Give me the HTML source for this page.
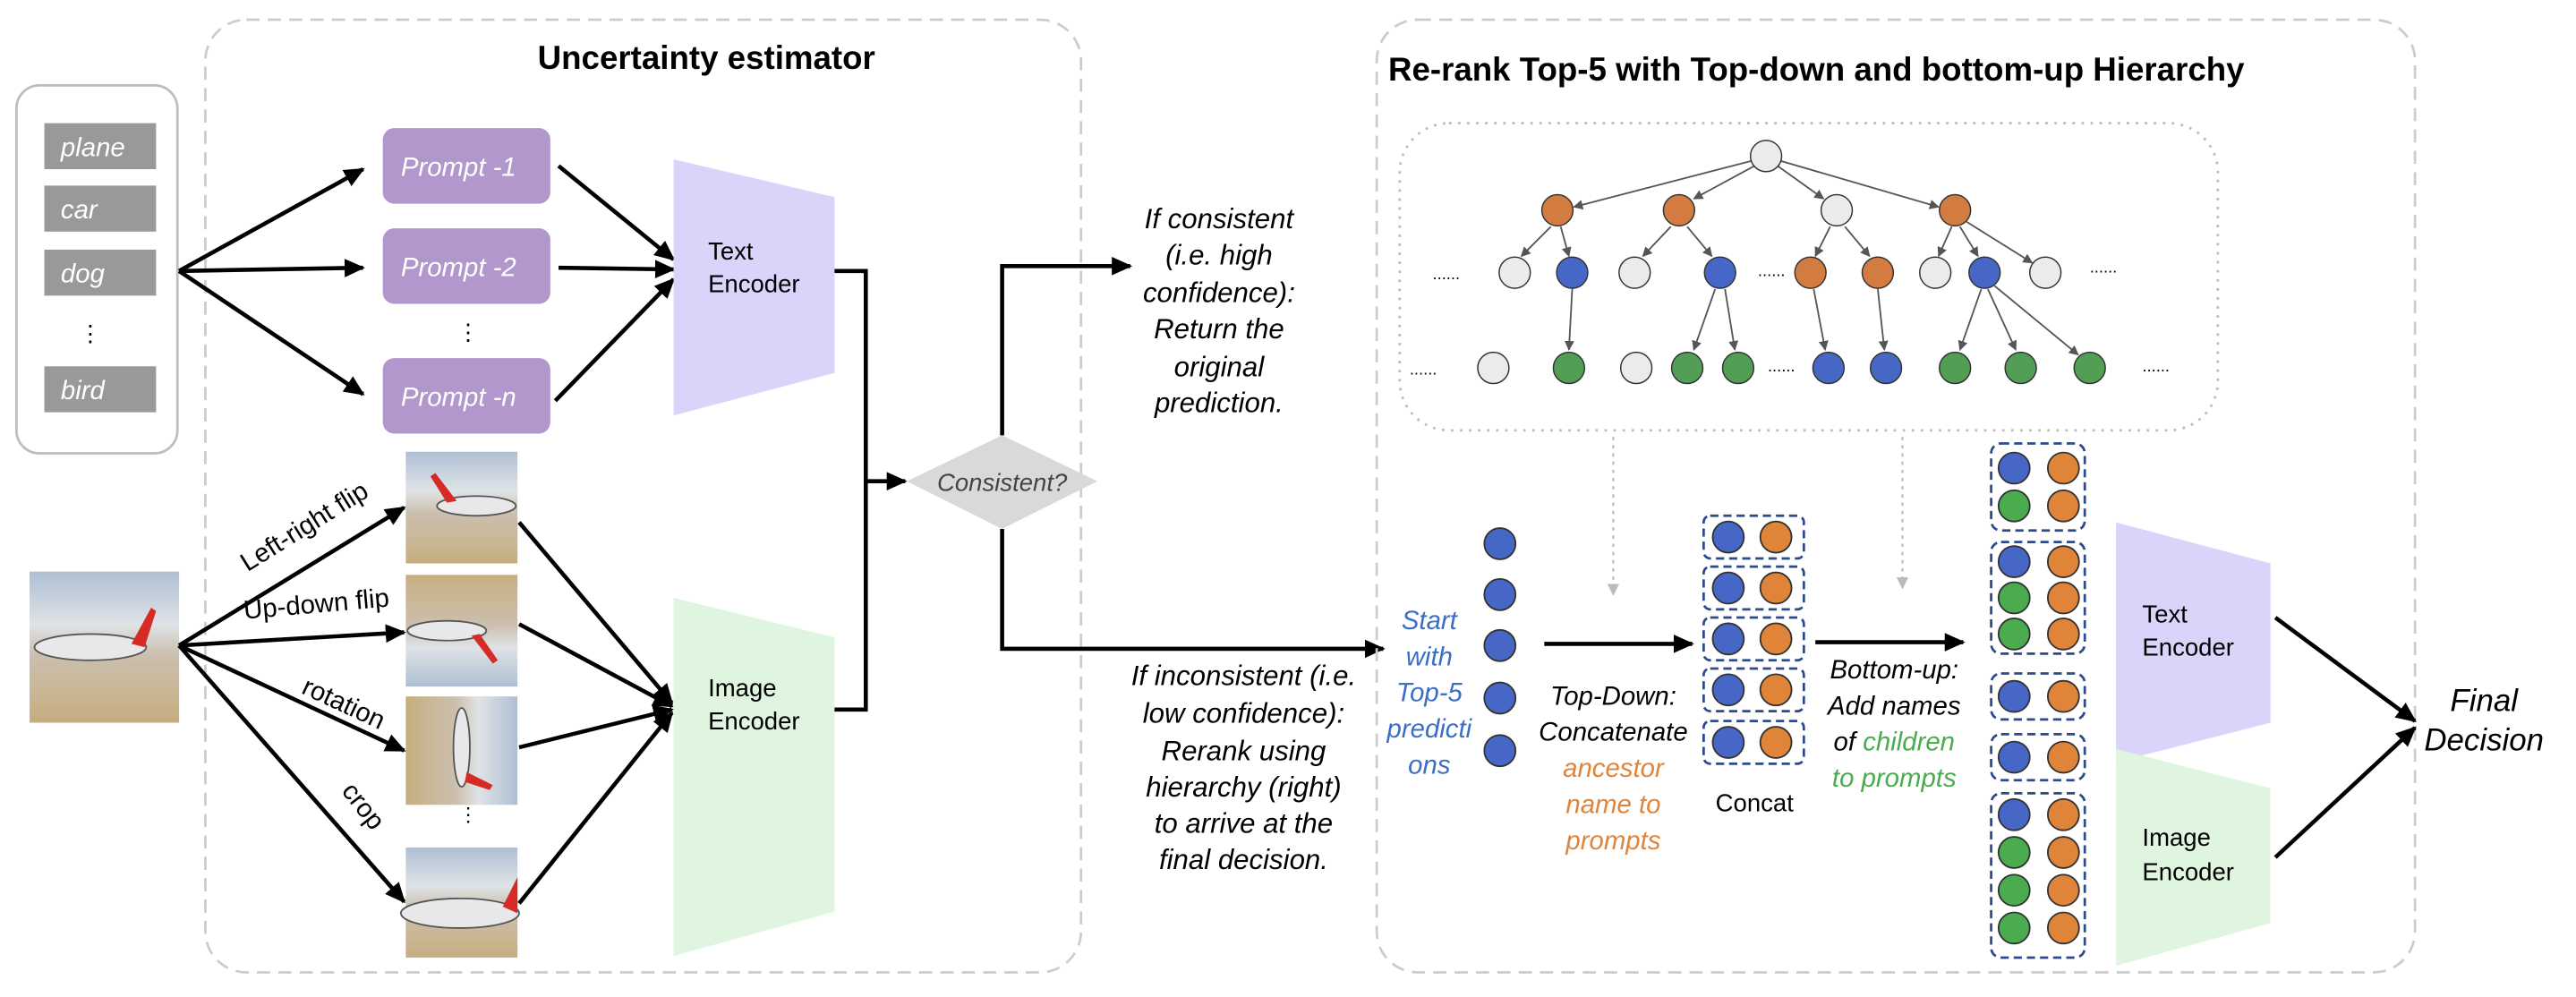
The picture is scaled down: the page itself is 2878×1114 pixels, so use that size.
<!DOCTYPE html>
<html><head><meta charset="utf-8"><style>
html,body{margin:0;padding:0;background:#fff;}
svg{display:block;}
text{font-family:"Liberation Sans",sans-serif;}
</style></head><body>
<svg width="2878" height="1114" viewBox="0 0 1568 607" preserveAspectRatio="none" xmlns="http://www.w3.org/2000/svg">
<defs>
<marker id="ah" viewBox="0 0 10 10" refX="9" refY="5" markerWidth="5" markerHeight="5" orient="auto" markerUnits="strokeWidth"><path d="M0,0.5 L10,5 L0,9.5 z" fill="#000"/></marker>
<marker id="ag" viewBox="0 0 10 10" refX="9" refY="5" markerWidth="6" markerHeight="6" orient="auto" markerUnits="strokeWidth"><path d="M0,0 L10,5 L0,10 z" fill="#555"/></marker>
<marker id="agl" viewBox="0 0 10 10" refX="9" refY="5" markerWidth="6" markerHeight="6" orient="auto" markerUnits="strokeWidth"><path d="M0,0 L10,5 L0,10 z" fill="#bbb"/></marker>
<linearGradient id="sky" x1="0" y1="0" x2="0" y2="1"><stop offset="0" stop-color="#aebfd4"/><stop offset="0.35" stop-color="#dfe3e6"/><stop offset="0.55" stop-color="#cbbfae"/><stop offset="0.8" stop-color="#c9b795"/><stop offset="1" stop-color="#c6ad80"/></linearGradient>
<linearGradient id="skyf" x1="0" y1="1" x2="0" y2="0"><stop offset="0" stop-color="#aebfd4"/><stop offset="0.35" stop-color="#dfe3e6"/><stop offset="0.55" stop-color="#cbbfae"/><stop offset="0.8" stop-color="#c9b795"/><stop offset="1" stop-color="#c6ad80"/></linearGradient>
<linearGradient id="skyr" x1="1" y1="0" x2="0" y2="0"><stop offset="0" stop-color="#aebfd4"/><stop offset="0.35" stop-color="#dfe3e6"/><stop offset="0.55" stop-color="#cbbfae"/><stop offset="0.8" stop-color="#c9b795"/><stop offset="1" stop-color="#c6ad80"/></linearGradient>
</defs>

<rect x="10" y="52" width="98" height="224" rx="14" fill="#fff" stroke="#bdbdbd" stroke-width="1.5"/>
<g fill="#999">
<rect x="27" y="75" width="68" height="28"/><rect x="27" y="113" width="68" height="28"/><rect x="27" y="152" width="68" height="28"/><rect x="27" y="223" width="68" height="28"/>
</g>
<g fill="#fff" font-style="italic" font-size="16">
<text x="37" y="95">plane</text><text x="37" y="133">car</text><text x="37" y="172">dog</text><text x="37" y="243">bird</text>
</g>
<text x="55" y="208" font-size="14" text-anchor="middle">⋮</text>

<rect x="125" y="12" width="533" height="580" rx="25" fill="none" stroke="#ccc" stroke-width="1.5" stroke-dasharray="8,5"/>
<text x="430" y="42" font-size="20" font-weight="bold" text-anchor="middle">Uncertainty estimator</text>

<g fill="#b197cc"><rect x="233" y="78" width="102" height="46" rx="7"/><rect x="233" y="139" width="102" height="46" rx="7"/><rect x="233" y="218" width="102" height="46" rx="7"/></g>
<g fill="#fff" font-style="italic" font-size="16"><text x="244" y="107">Prompt -1</text><text x="244" y="168">Prompt -2</text><text x="244" y="247">Prompt -n</text></g>
<text x="285" y="207" font-size="14" text-anchor="middle">⋮</text>

<g stroke="#000" stroke-width="2.5" fill="none" marker-end="url(#ah)">
<line x1="109" y1="165" x2="221" y2="103"/>
<line x1="109" y1="165" x2="221" y2="163"/>
<line x1="109" y1="165" x2="221" y2="240"/>
<line x1="340" y1="101" x2="410" y2="158"/>
<line x1="340" y1="163" x2="410" y2="164"/>
<line x1="338" y1="244" x2="410" y2="170"/>
</g>

<polygon points="410,97 508,120 508,227 410,253" fill="#d9d5fa"/>
<text x="431" y="158" font-size="15">Text</text><text x="431" y="178" font-size="15">Encoder</text>
<polygon points="410,364 508,388 508,555 410,582" fill="#dff5df"/>
<text x="431" y="424" font-size="15">Image</text><text x="431" y="444" font-size="15">Encoder</text>

<rect x="18" y="348" width="91" height="92" fill="url(#sky)"/>
<ellipse cx="55" cy="394" rx="34" ry="8" fill="#e8e8ea" stroke="#555" stroke-width="1"/>
<polygon points="80,392 92,370 95,372 88,394" fill="#d62b25"/>

<rect x="247" y="275" width="68" height="68" fill="url(#sky)"/>
<ellipse cx="290" cy="308" rx="24" ry="6" fill="#e8e8ea" stroke="#555" stroke-width="1"/>
<polygon points="272,306 262,290 265,288 278,305" fill="#d62b25"/>
<rect x="247" y="350" width="68" height="68" fill="url(#skyf)"/>
<ellipse cx="272" cy="384" rx="24" ry="6" fill="#e8e8ea" stroke="#555" stroke-width="1"/>
<polygon points="292,386 303,402 300,404 287,387" fill="#d62b25"/>
<rect x="247" y="424" width="68" height="66" fill="url(#skyr)"/>
<ellipse cx="281" cy="455" rx="5" ry="24" fill="#e8e8ea" stroke="#555" stroke-width="1"/>
<polygon points="284,470 300,478 298,481 283,476" fill="#d62b25"/>
<rect x="247" y="516" width="68" height="67" fill="url(#sky)"/>
<ellipse cx="280" cy="556" rx="36" ry="9" fill="#e8e8ea" stroke="#555" stroke-width="1"/>
<polygon points="306,552 315,534 315,556" fill="#d62b25"/>
<text x="285" y="500" font-size="12" text-anchor="middle">⋮</text>

<g stroke="#000" stroke-width="2.5" fill="none" marker-end="url(#ah)">
<line x1="109" y1="393" x2="246" y2="309"/>
<line x1="109" y1="393" x2="246" y2="385"/>
<line x1="109" y1="393" x2="246" y2="457"/>
<line x1="109" y1="393" x2="246" y2="549"/>
<line x1="316" y1="318" x2="409" y2="428"/>
<line x1="316" y1="380" x2="409" y2="430"/>
<line x1="316" y1="455" x2="409" y2="432"/>
<line x1="316" y1="550" x2="409" y2="434"/>
</g>
<g font-size="16">
<text transform="translate(188,325) rotate(-32)" text-anchor="middle">Left-right flip</text>
<text transform="translate(193,373) rotate(-5)" text-anchor="middle">Up-down flip</text>
<text transform="translate(207,433) rotate(25)" text-anchor="middle">rotation</text>
<text transform="translate(217,494) rotate(52)" text-anchor="middle">crop</text>
</g>

<path d="M508,165 H527 V432 H508" stroke="#000" stroke-width="2.5" fill="none"/>
<line x1="527" y1="293" x2="551" y2="293" stroke="#000" stroke-width="2.5" marker-end="url(#ah)"/>
<polygon points="552,293 610,265 668,293 610,322" fill="#d9d9d9"/>
<text x="610" y="299" font-size="15" font-style="italic" fill="#444" text-anchor="middle">Consistent?</text>
<path d="M610,265 V162 H688" stroke="#000" stroke-width="2.5" fill="none" marker-end="url(#ah)"/>
<path d="M610,322 V395 H842" stroke="#000" stroke-width="2.5" fill="none" marker-end="url(#ah)"/>

<g font-size="17" font-style="italic" text-anchor="middle">
<text x="742" y="139">If consistent</text><text x="742" y="161">(i.e. high</text><text x="742" y="184">confidence):</text><text x="742" y="206">Return the</text><text x="742" y="229">original</text><text x="742" y="251">prediction.</text>
<text x="757" y="417">If inconsistent (i.e.</text><text x="757" y="440">low confidence):</text><text x="757" y="463">Rerank using</text><text x="757" y="485">hierarchy (right)</text><text x="757" y="507">to arrive at the</text><text x="757" y="529">final decision.</text>
</g>

<rect x="838" y="12" width="632" height="580" rx="25" fill="none" stroke="#ccc" stroke-width="1.5" stroke-dasharray="8,5"/>
<text x="845" y="49" font-size="20" font-weight="bold">Re-rank Top-5 with Top-down and bottom-up Hierarchy</text>
<rect x="852" y="75" width="498" height="187" rx="30" fill="none" stroke="#bbb" stroke-width="1.5" stroke-dasharray="1.5,4"/>

<g stroke="#555" stroke-width="1" marker-end="url(#ag)">
<line x1="1066" y1="98" x2="958" y2="126"/>
<line x1="1068" y1="101" x2="1031" y2="121"/>
<line x1="1082" y1="101" x2="1110" y2="121"/>
<line x1="1084" y1="98" x2="1180" y2="126"/>
<line x1="944" y1="138" x2="926" y2="156"/>
<line x1="950" y1="138" x2="955" y2="156"/>
<line x1="1017" y1="138" x2="1000" y2="156"/>
<line x1="1027" y1="138" x2="1042" y2="156"/>
<line x1="1114" y1="138" x2="1105" y2="156"/>
<line x1="1123" y1="138" x2="1138" y2="156"/>
<line x1="1188" y1="138" x2="1180" y2="156"/>
<line x1="1193" y1="138" x2="1204" y2="156"/>
<line x1="1197" y1="135" x2="1237" y2="160"/>
<line x1="957" y1="176" x2="955" y2="213"/>
<line x1="1044" y1="176" x2="1031" y2="213"/>
<line x1="1050" y1="176" x2="1056" y2="213"/>
<line x1="1104" y1="176" x2="1111" y2="213"/>
<line x1="1143" y1="176" x2="1147" y2="213"/>
<line x1="1206" y1="176" x2="1193" y2="213"/>
<line x1="1210" y1="176" x2="1227" y2="213"/>
<line x1="1214" y1="174" x2="1265" y2="216"/>
</g>
<g stroke="#333" stroke-width="0.8">
<circle cx="1075" cy="95" r="9.5" fill="#ebebeb"/>
<circle cx="948" cy="128" r="9.5" fill="#d37c42"/><circle cx="1022" cy="128" r="9.5" fill="#d37c42"/><circle cx="1118" cy="128" r="9.5" fill="#ebebeb"/><circle cx="1190" cy="128" r="9.5" fill="#d37c42"/>
<circle cx="922" cy="166" r="9.5" fill="#ebebeb"/><circle cx="957" cy="166" r="9.5" fill="#4767c6"/><circle cx="995" cy="166" r="9.5" fill="#ebebeb"/><circle cx="1047" cy="166" r="9.5" fill="#4767c6"/><circle cx="1102" cy="166" r="9.5" fill="#d37c42"/><circle cx="1143" cy="166" r="9.5" fill="#d37c42"/><circle cx="1178" cy="166" r="9.5" fill="#ebebeb"/><circle cx="1208" cy="166" r="9.5" fill="#4767c6"/><circle cx="1245" cy="166" r="9.5" fill="#ebebeb"/>
<circle cx="909" cy="224" r="9.5" fill="#ebebeb"/><circle cx="955" cy="224" r="9.5" fill="#539e55"/><circle cx="996" cy="224" r="9.5" fill="#ebebeb"/><circle cx="1027" cy="224" r="9.5" fill="#539e55"/><circle cx="1058" cy="224" r="9.5" fill="#539e55"/><circle cx="1113" cy="224" r="9.5" fill="#4767c6"/><circle cx="1148" cy="224" r="9.5" fill="#4767c6"/><circle cx="1190" cy="224" r="9.5" fill="#539e55"/><circle cx="1230" cy="224" r="9.5" fill="#539e55"/><circle cx="1272" cy="224" r="9.5" fill="#539e55"/>
</g>
<g font-size="10"><text x="872" y="170">......</text><text x="1070" y="168">......</text><text x="1272" y="166">......</text><text x="858" y="228">......</text><text x="1076" y="226">......</text><text x="1304" y="226">......</text></g>

<line x1="982" y1="266" x2="982" y2="362" stroke="#bbb" stroke-width="1.2" stroke-dasharray="2,3" marker-end="url(#agl)"/>
<line x1="1158" y1="266" x2="1158" y2="358" stroke="#bbb" stroke-width="1.2" stroke-dasharray="2,3" marker-end="url(#agl)"/>

<g fill="#4767c6" stroke="#333" stroke-width="1"><circle cx="913" cy="331" r="9.5"/><circle cx="913" cy="362" r="9.5"/><circle cx="913" cy="393" r="9.5"/><circle cx="913" cy="425" r="9.5"/><circle cx="913" cy="457" r="9.5"/></g>
<g font-size="16" font-style="italic" fill="#3b6fc6" text-anchor="middle"><text x="870" y="383">Start</text><text x="870" y="405">with</text><text x="870" y="427">Top-5</text><text x="870" y="449">predicti</text><text x="870" y="471">ons</text></g>
<line x1="940" y1="392" x2="1030" y2="392" stroke="#000" stroke-width="2.5" marker-end="url(#ah)"/>
<g font-size="16" font-style="italic" text-anchor="middle"><text x="982" y="429">Top-Down:</text><text x="982" y="451">Concatenate</text>
<text x="982" y="473" fill="#e0843a">ancestor</text><text x="982" y="495" fill="#e0843a">name to</text><text x="982" y="517" fill="#e0843a">prompts</text></g>

<g fill="none" stroke="#2c4a8c" stroke-width="1.5" stroke-dasharray="5,3">
<rect x="1037" y="314" width="61" height="26" rx="4"/><rect x="1037" y="345" width="61" height="26" rx="4"/><rect x="1037" y="376" width="61" height="26" rx="4"/><rect x="1037" y="407" width="61" height="26" rx="4"/><rect x="1037" y="439" width="61" height="26" rx="4"/>
</g>
<g stroke="#333" stroke-width="1">
<g fill="#4767c6"><circle cx="1052" cy="327" r="9.5"/><circle cx="1052" cy="358" r="9.5"/><circle cx="1052" cy="389" r="9.5"/><circle cx="1052" cy="420" r="9.5"/><circle cx="1052" cy="452" r="9.5"/></g>
<g fill="#e0843a"><circle cx="1081" cy="327" r="9.5"/><circle cx="1081" cy="358" r="9.5"/><circle cx="1081" cy="389" r="9.5"/><circle cx="1081" cy="420" r="9.5"/><circle cx="1081" cy="452" r="9.5"/></g>
</g>
<text x="1068" y="494" font-size="15" text-anchor="middle">Concat</text>
<line x1="1105" y1="391" x2="1195" y2="391" stroke="#000" stroke-width="2.5" marker-end="url(#ah)"/>
<g font-size="16" font-style="italic" text-anchor="middle"><text x="1153" y="413">Bottom-up:</text><text x="1153" y="435">Add names</text><text x="1153" y="457">of <tspan fill="#4bab4f">children</tspan></text><text x="1153" y="479" fill="#4bab4f">to prompts</text></g>

<g fill="none" stroke="#2c4a8c" stroke-width="1.5" stroke-dasharray="5,3">
<rect x="1212" y="270" width="57" height="53" rx="6"/><rect x="1212" y="330" width="57" height="68" rx="6"/><rect x="1212" y="410" width="57" height="28" rx="6"/><rect x="1212" y="447" width="57" height="28" rx="6"/><rect x="1212" y="483" width="57" height="100" rx="6"/>
</g>
<g stroke="#333" stroke-width="1">
<g fill="#4767c6"><circle cx="1226" cy="285" r="9.5"/><circle cx="1226" cy="342" r="9.5"/><circle cx="1226" cy="424" r="9.5"/><circle cx="1226" cy="461" r="9.5"/><circle cx="1226" cy="496" r="9.5"/></g>
<g fill="#4bab4f"><circle cx="1226" cy="308" r="9.5"/><circle cx="1226" cy="364" r="9.5"/><circle cx="1226" cy="386" r="9.5"/><circle cx="1226" cy="519" r="9.5"/><circle cx="1226" cy="542" r="9.5"/><circle cx="1226" cy="565" r="9.5"/></g>
<g fill="#e0843a"><circle cx="1256" cy="285" r="9.5"/><circle cx="1256" cy="308" r="9.5"/><circle cx="1256" cy="342" r="9.5"/><circle cx="1256" cy="364" r="9.5"/><circle cx="1256" cy="386" r="9.5"/><circle cx="1256" cy="424" r="9.5"/><circle cx="1256" cy="461" r="9.5"/><circle cx="1256" cy="496" r="9.5"/><circle cx="1256" cy="519" r="9.5"/><circle cx="1256" cy="542" r="9.5"/><circle cx="1256" cy="565" r="9.5"/></g>
</g>

<polygon points="1288,318 1382,343 1382,440 1288,464" fill="#d9d5fa"/>
<text x="1304" y="379" font-size="15">Text</text><text x="1304" y="399" font-size="15">Encoder</text>
<polygon points="1288,456 1382,480 1382,562 1288,588" fill="#dff5df"/>
<text x="1304" y="515" font-size="15">Image</text><text x="1304" y="536" font-size="15">Encoder</text>
<line x1="1385" y1="376" x2="1470" y2="439" stroke="#000" stroke-width="2.5" marker-end="url(#ah)"/>
<line x1="1385" y1="522" x2="1470" y2="443" stroke="#000" stroke-width="2.5" marker-end="url(#ah)"/>
<g font-size="19" font-style="italic" text-anchor="middle"><text x="1512" y="433">Final</text><text x="1512" y="457">Decision</text></g>
</svg>
</body></html>
